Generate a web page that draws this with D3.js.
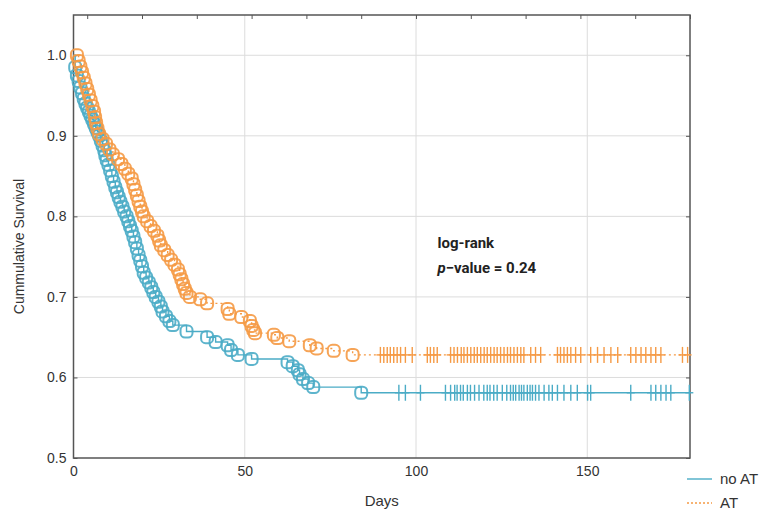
<!DOCTYPE html>
<html>
<head>
<meta charset="utf-8">
<script src="https://cdn.jsdelivr.net/npm/d3@7"></script>
<style>
  body { margin: 0; background: #fff; }
  text { font-family: "Liberation Sans", Arial, sans-serif; fill: #333; }
</style>
</head>
<body>
<div id="chart-area"></div>
<script>
// Events (day, survival after event)
let noAtEvents = [
	[0.5,0.985],[1,0.975],[1.5,0.968],[2,0.96],[2.5,0.953],[3,0.946],[3.5,0.94],[4,0.935],[4.5,0.93],
	[5,0.925],[5.5,0.92],[6,0.915],[6.5,0.91],[7,0.905],[7.5,0.9],[8,0.894],[8.5,0.888],[9,0.882],
	[9.3,0.876],[9.7,0.87],[10.2,0.864],[10.7,0.857],[11.2,0.85],[11.7,0.843],[12.2,0.836],[12.7,0.83],
	[13.2,0.824],[13.7,0.818],[14.3,0.812],[14.8,0.806],[15.5,0.8],[16,0.794],[16.5,0.788],[17,0.782],
	[17.5,0.775],[18,0.768],[18.5,0.76],[19,0.752],[19.5,0.745],[20,0.738],[20.5,0.73],[21.2,0.724],
	[22,0.718],[22.7,0.712],[23.3,0.706],[24,0.7],[24.8,0.694],[25.5,0.688],[26,0.682],[27,0.676],
	[28,0.67],[29,0.665],[33,0.657],[39,0.65],[41.5,0.644],[45,0.64],[46,0.634],[48,0.628],[52,0.623],
	[62.5,0.619],[64,0.614],[65.5,0.609],[66,0.604],[67,0.598],[68.5,0.593],[70,0.588],[84,0.581]
];
let atEvents = [
	[1,1.0],[1.5,0.993],[2,0.986],[2.5,0.979],[3,0.972],[3.5,0.965],[4,0.958],[4.5,0.951],[5,0.944],
	[5.5,0.937],[6,0.93],[6.3,0.923],[6.6,0.916],[7,0.909],[7.5,0.902],[8.5,0.896],[9.5,0.89],
	[10.5,0.883],[11.5,0.877],[13,0.871],[14,0.865],[15,0.859],[16,0.853],[17,0.847],[17.5,0.84],
	[18,0.833],[18.5,0.826],[19,0.819],[19.5,0.812],[20,0.806],[20.5,0.8],[21.5,0.794],[22.5,0.788],
	[23.5,0.782],[24.5,0.776],[25,0.77],[25.5,0.764],[26.5,0.758],[27.5,0.752],[28.5,0.746],[29.5,0.74],
	[30.5,0.734],[31,0.728],[31.5,0.722],[32,0.716],[32.5,0.71],[33,0.705],[34,0.7],[37,0.697],
	[39,0.692],[45,0.685],[45.5,0.679],[49,0.675],[51.5,0.67],[52,0.664],[52.5,0.659],[53,0.655],
	[58.5,0.653],[59.5,0.649],[63,0.645],[69,0.64],[71,0.636],[76,0.633],[81.5,0.628]
];

// Censored observations (days)
let noAtCensored = [95.0,96.9,101.3,108.6,110.1,111.3,112.0,113.0,113.8,115.0,115.9,117.1,118.4,
	119.8,120.8,121.6,122.7,123.7,125.2,126.5,127.6,128.4,129.1,130.1,130.8,131.5,132.5,133.3,134.0,
	134.9,135.9,137.4,138.8,139.8,141.3,143.2,145.2,147.1,150.1,151.0,162.7,168.6,170.0,171.5,173.0,
	174.4,179.8];
let atCensored = [89.6,90.6,91.6,92.5,93.5,94.5,95.5,96.9,98.9,103.3,104.2,105.2,106.2,110.1,111.1,
	112.1,113.2,114.0,115.0,116.0,117.0,117.9,118.9,119.9,120.8,121.8,122.8,123.7,124.7,125.7,126.7,
	127.6,128.6,129.6,130.6,131.5,133.5,134.9,136.4,141.3,142.2,143.2,144.2,145.2,146.6,148.1,151.0,
	153.0,154.9,156.9,158.9,162.7,164.2,165.7,167.1,168.6,170.0,171.5,177.8,179.3];

let xTicks = [0, 50, 100, 150];
let xTopTicks = [4, 20, 36, 52, 68, 84, 100, 116, 132, 148, 164, 180];
let yTicks = [0.5, 0.6, 0.7, 0.8, 0.9, 1.0];
let seriesNames = ["no AT", "AT"];
let seriesColors = ["#4bacc6", "#f59a45"];

let width_raw = 763, height_raw = 511;
let margin = {top: 15, right: 73, bottom: 53, left: 73.5};
let width = width_raw - margin.left - margin.right,
	height = height_raw - margin.top - margin.bottom;

let svg = d3.select("#chart-area")
	.append("svg")
	.attr("width", width_raw)
	.attr("height", height_raw)
	.append("g")
	.attr("transform", "translate(" + margin.left + "," + margin.top + ")");

let x = d3.scaleLinear().domain([0, 180]).range([0, width]);
let y = d3.scaleLinear().domain([0.5, 1.05]).range([height, 0]);

// Grid
svg.append("g")
	.selectAll("line")
	.data(xTicks.slice(1))
	.enter().append("line")
	.attr("x1", d => x(d)).attr("x2", d => x(d))
	.attr("y1", 0).attr("y2", height)
	.attr("stroke", "#dcdcdc").attr("stroke-width", 1);
svg.append("g")
	.selectAll("line")
	.data(yTicks.slice(1))
	.enter().append("line")
	.attr("x1", 0).attr("x2", width)
	.attr("y1", d => y(d)).attr("y2", d => y(d))
	.attr("stroke", "#dcdcdc").attr("stroke-width", 1);

// Axes
let yAxis = d3.axisLeft(y).tickValues(yTicks).tickSize(-4).tickPadding(7).tickFormat(d3.format(".1f"));
let yGroup = svg.append("g").call(yAxis);
yGroup.selectAll("text").style("font-size", "14px");

svg.append("g").attr("transform", "translate(" + width + ",0)")
	.call(d3.axisRight(y).tickValues(yTicks).tickSize(-4).tickFormat(""));

let xAxis = d3.axisBottom(x).tickValues(xTicks).tickSize(0).tickPadding(8);
let xGroup = svg.append("g").attr("transform", "translate(0," + height + ")").call(xAxis);
xGroup.selectAll("text").style("font-size", "14px");

svg.append("g").call(d3.axisTop(x).tickValues(xTopTicks).tickSize(-4).tickFormat(""));

svg.selectAll(".domain").remove();
svg.selectAll(".tick line").attr("stroke", "#555");

// Frame
svg.append("rect")
	.attr("width", width).attr("height", height)
	.attr("fill", "none").attr("stroke", "#555").attr("stroke-width", 1.5);

// Curves
let line = d3.line()
	.x(d => x(d[0]))
	.y(d => y(d[1]))
	.curve(d3.curveStepAfter);

function drawSeries(events, censored, color, dash) {
	let last = events[events.length - 1][1];
	let pts = [[0, 1]].concat(events).concat([[180, last]]);
	svg.append("path")
		.attr("d", line(pts))
		.attr("fill", "none")
		.attr("stroke", color)
		.attr("stroke-width", 1.4)
		.attr("stroke-dasharray", dash);

	svg.append("g").selectAll("rect")
		.data(events)
		.enter().append("rect")
		.attr("x", d => x(d[0]) - 6)
		.attr("y", d => y(d[1]) - 6)
		.attr("width", 12).attr("height", 12)
		.attr("rx", 4.5)
		.attr("fill", "none")
		.attr("stroke", color)
		.attr("stroke-width", 2)
		.attr("opacity", 0.9);

	let c = svg.append("g").attr("stroke", color).attr("stroke-width", 1.4);
	c.selectAll("line.v").data(censored).enter().append("line")
		.attr("class", "v")
		.attr("x1", d => x(d)).attr("x2", d => x(d))
		.attr("y1", y(last) - 8).attr("y2", y(last) + 8);
	c.selectAll("line.h").data(censored).enter().append("line")
		.attr("class", "h")
		.attr("x1", d => x(d) - 4).attr("x2", d => x(d) + 4)
		.attr("y1", y(last)).attr("y2", y(last));
}

drawSeries(noAtEvents, noAtCensored, seriesColors[0], null);
drawSeries(atEvents, atCensored, seriesColors[1], "2,3");

// Annotation
let ann = svg.append("text").attr("x", 364).attr("y", 233)
	.style("font-family", "Roboto, sans-serif").style("font-weight", "bold").style("font-size", "15px")
	.style("fill", "#222");
ann.append("tspan").text("log-rank");
let ann2 = svg.append("text").attr("x", 364).attr("y", 258)
	.style("font-family", "Roboto, sans-serif").style("font-weight", "bold").style("font-size", "15px")
	.style("fill", "#222");
ann2.append("tspan").style("font-style", "italic").text("p");
ann2.append("tspan").text("\u2212value = 0.24");

// Axis labels
svg.append("text")
	.attr("x", width / 2).attr("y", height + 48)
	.attr("text-anchor", "middle")
	.style("font-size", "15px")
	.text("Days");
svg.append("text")
	.attr("transform", "translate(" + (-50) + "," + (height / 2 + 10) + ") rotate(-90)")
	.attr("text-anchor", "middle")
	.style("font-size", "14px")
	.text("Cummulative Survival");

// Legend
let legend = svg.append("g").attr("transform", "translate(" + (width - 3) + "," + (height + 21) + ")");
seriesNames.forEach((name, i) => {
	legend.append("line")
		.attr("x1", 0).attr("x2", 25)
		.attr("y1", i * 24).attr("y2", i * 24)
		.attr("stroke", seriesColors[i]).attr("stroke-width", 1.4)
		.attr("stroke-dasharray", i === 1 ? "2,2" : null);
	legend.append("text")
		.attr("x", 33).attr("y", i * 24 + 5)
		.style("font-size", "15px")
		.text(name);
});
</script>
</body>
</html>
